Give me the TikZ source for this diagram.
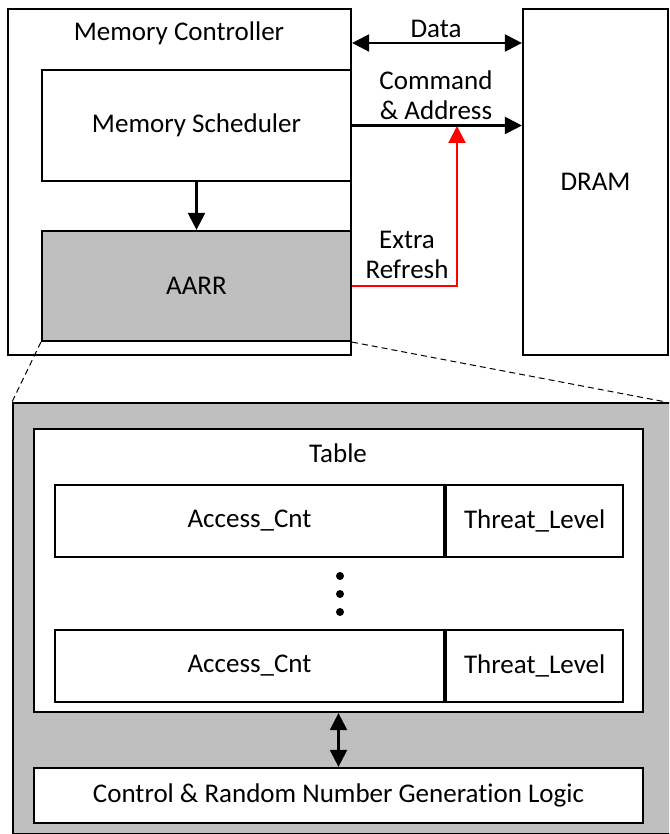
\documentclass[tikz,border=0pt]{standalone}
\usepackage{fontspec}
\setmainfont{Carlito}[Ligatures={NoCommon,NoContextual}]
\usetikzlibrary{arrows.meta}
\definecolor{aarrgray}{RGB}{191,191,191}

\begin{document}
\begin{tikzpicture}[x=1pt, y=-1pt,
    font=\fontsize{27}{30}\selectfont,
    every node/.style ={align=center},
    block/.style ={rectangle, draw, line width=2.2pt, inner sep=0pt},
    shaded/.style ={block, fill=aarrgray},
    link/.style ={line width=2.2pt, -{Triangle[length=17pt,width=17pt]}},
    duplex/.style ={line width=2.2pt, {Triangle[length=17pt,width=17pt]}-{Triangle[length=17pt,width=17pt]}}]
   \clip (0,0) rectangle (669,834);
   % memory controller and DRAM
   \node[block, minimum width=343pt, minimum height=346pt] (MC) at (179.5,182) {};
   \node (MCtitle) at (179,33) {Memory Controller};
   \node[block, minimum width=309pt, minimum height=111pt] (SCH) at (196.5,125.5) {Memory Scheduler};
   \node[shaded, minimum width=309pt, minimum height=110pt] (AARR) at (196.5,286) {AARR};
   \node[block, minimum width=145pt, minimum height=346pt] (DRAM) at (595.5,182) {DRAM};
   \draw[link] (SCH) to (AARR);
   % buses
   \coordinate (datay) at (0,43);
   \coordinate (tap) at (457,126);
   \draw[duplex] (MC.east |- datay) to (DRAM.west |- datay);
   \node (data) at (436,29) {Data};
   \draw[link] (SCH.east) to (SCH.east -| DRAM.west);
   \node (cmd) at (436,95) {Command\\\& Address};
   \draw[link, red] (AARR.east) -| (tap);
   \node (xr) at (407,255) {Extra\\Refresh};
   % inside of AARR
   \node[shaded, minimum width=690pt, minimum height=431pt, anchor=north west] (zoom) at (12,402) {};
   \coordinate (zr) at (666,402);
   \draw[dashed, line width=1pt, dash pattern=on 6pt off 4pt] (AARR.south west) to (zoom.north west);
   \draw[dashed, line width=1pt, dash pattern=on 6pt off 4pt] (AARR.south east) to (zr);
   \node[block, fill=white, minimum width=609pt, minimum height=283pt] (TABLE) at (338.5,570.5) {};
   \node (tabletitle) at (338,453) {Table};
   \foreach \r/\y in {1/521,2/666} {
      \node[block, minimum width=389pt, minimum height=72pt] (cnt\r) at (249.5,\y) {Access\_Cnt};
      \node[block, minimum width=177pt, minimum height=72pt, anchor=west] (lvl\r) at (cnt\r.east) {Threat\_Level};
   }
   \foreach \y in {576,594,612}
      \fill (340,\y) circle (4pt);
   \node[block, fill=white, minimum width=609pt, minimum height=55pt] (LOGIC) at (338.5,795.5) {Control \& Random Number Generation Logic};
   \draw[duplex] (TABLE.south) to (LOGIC.north);
 \end{tikzpicture}
\end{document}
